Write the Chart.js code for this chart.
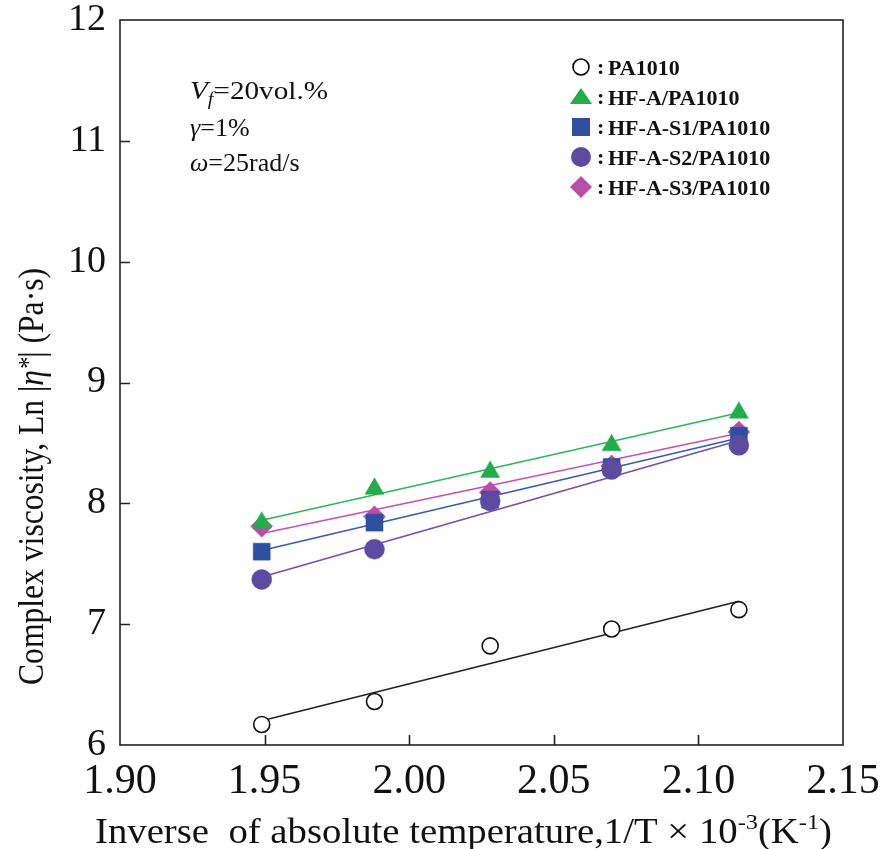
<!DOCTYPE html>
<html>
<head>
<meta charset="utf-8">
<script src="https://cdn.jsdelivr.net/npm/chart.js@4.4.1/dist/chart.umd.min.js"></script>
<style>
  html, body { margin: 0; padding: 0; background: #fff; }
  #wrap { width: 883px; height: 849px; position: relative; }
</style>
</head>
<body>
<div id="wrap"><canvas id="myChart" width="883" height="849"></canvas></div>
<script>
// inverse temperature 1/T x 10^-3 (K^-1)
const invTemp = [1.949, 1.988, 2.028, 2.070, 2.114];

// Ln|eta*|
const pa1010 = [6.17, 6.36, 6.82, 6.96, 7.12];
const hfA = [7.84, 8.12, 8.26, 8.48, 8.75];
const hfAS1 = [7.60, 7.84, 8.03, 8.30, 8.56];
const hfAS2 = [7.37, 7.62, 8.02, 8.28, 8.48];
const hfAS3 = [7.81, 7.89, 8.09, 8.31, 8.59];

// fitted lines (ends at first / last temperature)
const fitX = [1.949, 2.114];
const fitPA1010 = [6.20, 7.19];
const fitHfA = [7.86, 8.75];
const fitHfAS1 = [7.61, 8.54];
const fitHfAS2 = [7.39, 8.52];
const fitHfAS3 = [7.75, 8.58];

const xTicks = [1.90, 1.95, 2.00, 2.05, 2.10, 2.15];
const yTicks = [6, 7, 8, 9, 10, 11, 12];

const legendLabels = ["PA1010", "HF-A/PA1010", "HF-A-S1/PA1010", "HF-A-S2/PA1010", "HF-A-S3/PA1010"];

const serif = '"Liberation Serif", "Times New Roman", serif';
const cGreen = "#22ad4c";
const cBlue = "#2f4f9f";
const cPurple = "#5c4ba0";
const cPink = "#b94ea9";

function pts(xs, ys) {
  return xs.map((x, i) => ({ x: x, y: ys[i] }));
}

function fitSet(ys, color) {
  return {
    data: pts(fitX, ys), showLine: true, borderColor: color, borderWidth: 1.6,
    pointRadius: 0, fill: false, order: 2
  };
}

function markSet(ys, style, color, r, fillCol) {
  return {
    data: pts(invTemp, ys), showLine: false, pointStyle: style,
    pointRadius: r, pointBackgroundColor: fillCol || color,
    pointBorderColor: color, pointBorderWidth: fillCol ? 1.6 : 0.5, order: 1
  };
}

// draws a row of text pieces with different fonts, squeezed to a width if given
function drawRuns(ctx, runs, x, y, align, width) {
  let total = 0;
  runs.forEach(r => { ctx.font = r.font; total += ctx.measureText(r.t).width; });
  const sx = width ? width / total : 1;
  const start = align === "center" ? x - total * sx / 2 : x;
  ctx.save();
  ctx.translate(start, y);
  ctx.scale(sx, 1);
  let cx = 0;
  runs.forEach(r => {
    ctx.font = r.font;
    ctx.fillText(r.t, cx, r.dy || 0);
    cx += ctx.measureText(r.t).width;
  });
  ctx.restore();
}

function legendMarker(ctx, i, x, y) {
  ctx.save();
  ctx.lineWidth = 1.6;
  if (i === 0) {
    ctx.strokeStyle = "#000";
    ctx.fillStyle = "#fff";
    ctx.beginPath(); ctx.arc(x, y, 8, 0, Math.PI * 2); ctx.fill(); ctx.stroke();
  } else if (i === 1) {
    ctx.fillStyle = cGreen;
    ctx.beginPath(); ctx.moveTo(x, y - 9); ctx.lineTo(x + 11, y + 7); ctx.lineTo(x - 11, y + 7); ctx.closePath(); ctx.fill();
  } else if (i === 2) {
    ctx.fillStyle = cBlue;
    ctx.fillRect(x - 9, y - 9, 18, 18);
  } else if (i === 3) {
    ctx.fillStyle = cPurple;
    ctx.beginPath(); ctx.arc(x, y, 10, 0, Math.PI * 2); ctx.fill();
  } else {
    ctx.fillStyle = cPink;
    ctx.beginPath(); ctx.moveTo(x, y - 11); ctx.lineTo(x + 11, y); ctx.lineTo(x, y + 11); ctx.lineTo(x - 11, y); ctx.closePath(); ctx.fill();
  }
  ctx.restore();
}

const framePlugin = {
  id: "frame",
  afterDraw(chart) {
    const ctx = chart.ctx;
    const a = chart.chartArea;
    const xs = chart.scales.x;
    const ys = chart.scales.y;
    ctx.save();
    ctx.strokeStyle = "#222";
    ctx.lineWidth = 1.6;
    ctx.strokeRect(a.left, a.top, a.right - a.left, a.bottom - a.top);
    // inward ticks
    ctx.beginPath();
    xTicks.slice(1, -1).forEach(v => {
      const px = Math.round(xs.getPixelForValue(v)) + 0.5;
      ctx.moveTo(px, a.bottom); ctx.lineTo(px, a.bottom - 10);
    });
    yTicks.slice(1, -1).forEach(v => {
      const py = Math.round(ys.getPixelForValue(v)) + 0.5;
      ctx.moveTo(a.left, py); ctx.lineTo(a.left + 10, py);
    });
    ctx.stroke();

    ctx.fillStyle = "#111";
    ctx.textBaseline = "alphabetic";
    ctx.textAlign = "left";

    // x title
    const f = "35px " + serif;
    const fs = "22px " + serif;
    drawRuns(ctx, [
      { t: "Inverse  of absolute temperature,1/T ", font: f },
      { t: "\u00d7", font: f },
      { t: " 10", font: f },
      { t: "-3", font: fs, dy: -14 },
      { t: "(K", font: f },
      { t: "-1", font: fs, dy: -14 },
      { t: ")", font: f }
    ], 95, 843, "left", 737);

    // y title
    ctx.save();
    ctx.translate(43, 685);
    ctx.rotate(-Math.PI / 2);
    drawRuns(ctx, [
      { t: "Complex viscosity, Ln |", font: "36px " + serif },
      { t: "\u03b7", font: "italic 36px " + serif },
      { t: "*", font: "italic 28px " + serif, dy: -6 },
      { t: "| (Pa\u00b7s)", font: "36px " + serif }
    ], 0, 0, "left", 417);
    ctx.restore();

    // conditions
    const fa = "26px " + serif;
    const fi = "italic 26px " + serif;
    drawRuns(ctx, [{ t: "V", font: fi }, { t: "f", font: "italic 18px " + serif, dy: 6 }, { t: "=20vol.%", font: fa }], 190, 99, "left", 138);
    drawRuns(ctx, [{ t: "\u03b3", font: fi }, { t: "=1%", font: fa }], 190, 136, "left");
    drawRuns(ctx, [{ t: "\u03c9", font: fi }, { t: "=25rad/s", font: fa }], 190, 171, "left");

    // legend
    legendLabels.forEach((lab, i) => {
      const ly = 67 + i * 30;
      legendMarker(ctx, i, 581, ly);
      ctx.font = "bold 22px " + serif;
      ctx.fillText(":", 597, ly + 7);
      drawRuns(ctx, [{ t: lab, font: "bold 22px " + serif }], 608, ly + 8, "left");
    });
    ctx.restore();
  }
};

const ctx = document.getElementById("myChart").getContext("2d");
const chart = new Chart(ctx, {
  type: "scatter",
  data: {
    datasets: [
      fitSet(fitPA1010, "#222"),
      fitSet(fitHfAS2, "#7050b0"),
      fitSet(fitHfAS1, "#3a5ab0"),
      fitSet(fitHfAS3, "#c452b4"),
      fitSet(fitHfA, "#30b55a"),
      markSet(pa1010, "circle", "#111", 8, "#fff"),
      markSet(hfAS2, "circle", cPurple, 10),
      markSet(hfA, "triangle", cGreen, 11),
      markSet(hfAS1, "rect", cBlue, 12),
      markSet(hfAS3, "rectRot", cPink, 11)
    ]
  },
  options: {
    responsive: false,
    animation: false,
    layout: { padding: { top: 20, right: 40, left: 0, bottom: 0 } },
    plugins: { legend: { display: false }, tooltip: { enabled: false } },
    scales: {
      x: {
        type: "linear", min: 1.90, max: 2.15,
        grid: { display: false, drawTicks: false },
        border: { display: false },
        afterBuildTicks: s => { s.ticks = xTicks.map(v => ({ value: v })); },
        afterFit: s => { s.height = 104; s.paddingLeft = 0; s.paddingRight = 0; },
        ticks: {
          padding: 12, color: "#111",
          font: { family: serif, size: 42 },
          callback: v => Number(v).toFixed(2)
        }
      },
      y: {
        min: 6, max: 12,
        grid: { display: false, drawTicks: false },
        border: { display: false },
        afterBuildTicks: s => { s.ticks = yTicks.map(v => ({ value: v })); },
        afterFit: s => { s.width = 120; s.paddingTop = 0; s.paddingBottom = 0; },
        ticks: {
          padding: 14, color: "#111",
          font: { family: serif, size: 38 }
        }
      }
    }
  },
  plugins: [framePlugin]
});
</script>
</body>
</html>
